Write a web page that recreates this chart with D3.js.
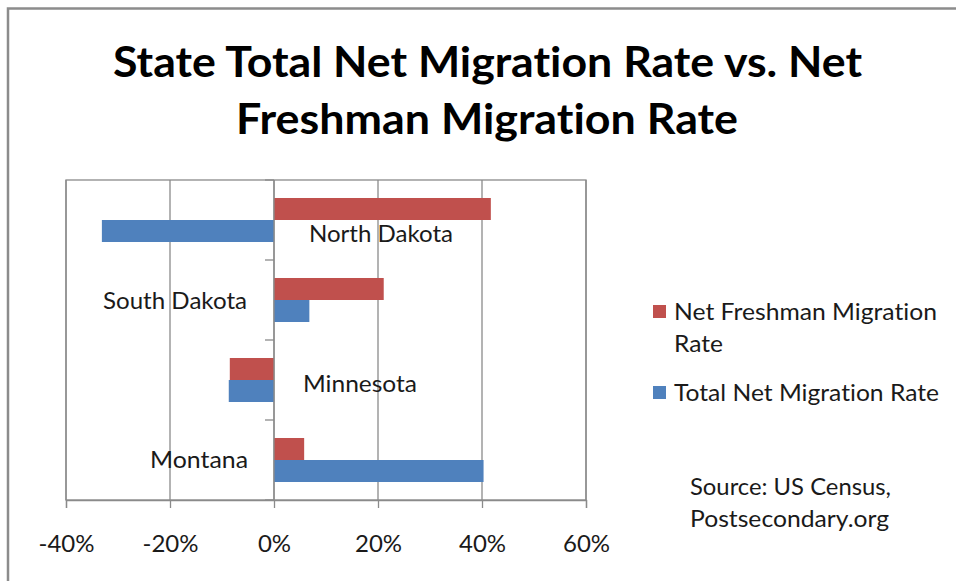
<!DOCTYPE html>
<html>
<head>
<meta charset="utf-8">
<script src="https://cdn.jsdelivr.net/npm/d3@7"></script>
<style>
  html, body { margin: 0; padding: 0; background: #fff; }
  svg { display: block; }
  text { font-family: Lato, "Open Sans", sans-serif; font-variant-ligatures: none; font-feature-settings: "liga" 0, "clig" 0; }
</style>
</head>
<body>
<svg id="chart" width="956" height="581"></svg>
<script>
// ---- data ----
const categories = ["North Dakota", "South Dakota", "Minnesota", "Montana"];
const seriesNames = ["Net Freshman Migration Rate", "Total Net Migration Rate"];
const freshmanRate = [0.417, 0.211, -0.085, 0.058];
const totalRate = [-0.331, 0.068, -0.087, 0.403];
const xTicks = [-0.4, -0.2, 0, 0.2, 0.4, 0.6];
const xTickLabels = ["-40%", "-20%", "0%", "20%", "40%", "60%"];
const titleLines = ["State Total Net Migration Rate vs. Net", "Freshman Migration Rate"];
const sourceLines = ["Source: US Census,", "Postsecondary.org"];

// ---- styling ----
const colors = ["#C0504D", "#4F81BD"];
const gridColor = "#8a8a8a";
const textColor = "#1a1a1a";
const labelSize = 23.5;

const svg = d3.select("#chart");
svg.append("rect").attr("width", 956).attr("height", 581).attr("fill", "#fff");
// outer chart frame
svg.append("rect").attr("x", 8).attr("y", 8.5).attr("width", 1000).attr("height", 700)
  .attr("fill", "none").attr("stroke", "#8c8c8c").attr("stroke-width", 2.5);

function fit(sel, w) {
  sel.attr("textLength", w).attr("lengthAdjust", "spacingAndGlyphs");
  return sel;
}

// title
const titleG = svg.append("g");
const titlePos = [{x: 487.5, y: 77, w: 749}, {x: 487, y: 134, w: 502}];
titleLines.forEach((t, i) => {
  fit(titleG.append("text")
    .attr("x", titlePos[i].x).attr("y", titlePos[i].y)
    .attr("text-anchor", "middle")
    .attr("font-size", 42).attr("font-weight", 700).attr("fill", "#000")
    .text(t), titlePos[i].w);
});

// scales
const plot = {left: 66, right: 586, top: 180, bottom: 500};
const x = d3.scaleLinear().domain([-0.4, 0.6]).range([plot.left, plot.right]);
const y = d3.scaleBand().domain(categories).range([plot.top, plot.bottom]).padding(0);
const ySub = d3.scaleBand().domain(seriesNames).range([0, y.bandwidth()])
  .paddingInner(0).paddingOuter(0.818);

// gridlines
svg.append("g").selectAll("line").data(xTicks).join("line")
  .attr("x1", d => x(d)).attr("x2", d => x(d))
  .attr("y1", plot.top).attr("y2", plot.bottom)
  .attr("stroke", gridColor).attr("stroke-width", 1.3);
// plot border
svg.append("rect").attr("x", plot.left).attr("y", plot.top)
  .attr("width", plot.right - plot.left).attr("height", plot.bottom - plot.top)
  .attr("fill", "none").attr("stroke", gridColor).attr("stroke-width", 1.3);

// bars
const rows = categories.map((c, i) => ({cat: c, vals: [freshmanRate[i], totalRate[i]]}));
const barG = svg.append("g");
rows.forEach(r => {
  r.vals.forEach((v, j) => {
    barG.append("rect")
      .attr("x", x(Math.min(0, v)))
      .attr("y", y(r.cat) + ySub(seriesNames[j]))
      .attr("width", Math.abs(x(v) - x(0)))
      .attr("height", ySub.bandwidth())
      .attr("fill", colors[j]);
  });
});

// vertical category axis at 0
const yAxisG = svg.append("g");
yAxisG.append("line").attr("x1", x(0)).attr("x2", x(0))
  .attr("y1", plot.top).attr("y2", plot.bottom)
  .attr("stroke", gridColor).attr("stroke-width", 1.3);
const bounds = categories.map(c => y(c)).concat([plot.bottom]);
yAxisG.selectAll("line.tk").data(bounds).join("line").attr("class", "tk")
  .attr("x1", x(0) - 9).attr("x2", x(0))
  .attr("y1", d => d).attr("y2", d => d)
  .attr("stroke", gridColor).attr("stroke-width", 1.3);

// x axis
const xAxis = d3.axisBottom(x).tickValues(xTicks)
  .tickFormat((d, i) => xTickLabels[i]).tickSize(8).tickPadding(22);
const xg = svg.append("g").attr("transform", `translate(0,${plot.bottom})`).call(xAxis);
xg.select(".domain").attr("stroke", gridColor).attr("stroke-width", 1.3);
xg.selectAll(".tick line").attr("stroke", gridColor).attr("stroke-width", 1.3);
xg.selectAll(".tick text").attr("font-size", 24).attr("fill", textColor)
  .attr("font-family", "Lato, sans-serif").attr("dy", 0).attr("y", 52);

// category labels (placed as in reference)
const catLabelPos = [
  {x: 309, y: 241.5, w: 144},
  {x: 103, y: 308.5, w: 144},
  {x: 303, y: 392, w: 114},
  {x: 150, y: 468, w: 98}
];
categories.forEach((c, i) => {
  fit(svg.append("text").attr("x", catLabelPos[i].x).attr("y", catLabelPos[i].y)
    .attr("font-size", labelSize).attr("fill", textColor).text(c), catLabelPos[i].w);
});

// legend
const legendItems = [
  {lines: ["Net Freshman Migration", "Rate"], sq: 305, base: [320, 352], w: [263, 49]},
  {lines: ["Total Net Migration Rate"], sq: 386, base: [400.5], w: [265]}
];
legendItems.forEach((it, j) => {
  svg.append("rect").attr("x", 653).attr("y", it.sq).attr("width", 13).attr("height", 13)
    .attr("fill", colors[j]);
  it.lines.forEach((l, k) => {
    fit(svg.append("text").attr("x", 674).attr("y", it.base[k])
      .attr("font-size", labelSize).attr("fill", textColor).text(l), it.w[k]);
  });
});

// source note
const srcPos = [{y: 495, w: 201}, {y: 526.5, w: 199}];
sourceLines.forEach((s, i) => {
  fit(svg.append("text").attr("x", 690).attr("y", srcPos[i].y)
    .attr("font-size", labelSize).attr("fill", textColor).text(s), srcPos[i].w);
});
</script>
</body>
</html>
